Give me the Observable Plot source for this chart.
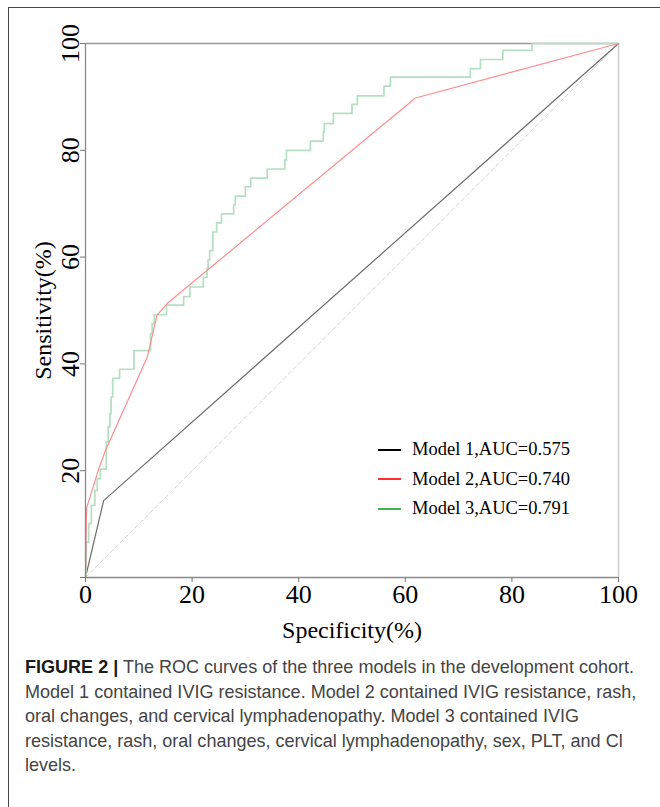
<!DOCTYPE html>
<html>
<head>
<meta charset="utf-8">
<script src="https://cdn.jsdelivr.net/npm/d3@7"></script>
<script src="https://cdn.jsdelivr.net/npm/@observablehq/plot@0.6"></script>
<style>
  html, body { margin: 0; padding: 0; background: #fff; }
  body { width: 660px; height: 807px; overflow: hidden; position: relative; }
  #frame { position: absolute; left: 8px; top: 7px; width: 660px; height: 810px;
           border-left: 1px solid #444; border-top: 1px solid #444; }
  #chart { position: absolute; left: 0; top: 0; }
  #legend { position: absolute; left: 378px; top: 435px; font-family: "Liberation Serif", serif;
            font-size: 18.5px; color: #000; }
  .row { height: 29.5px; display: flex; align-items: center; white-space: nowrap; }
  .sw { width: 23px; height: 0; border-top: 2px solid; margin-right: 11px; }
  #caption { position: absolute; left: 25px; top: 655px; font-family: "Liberation Sans", Arial, sans-serif;
             font-size: 16px; line-height: 24.5px; color: #444; white-space: nowrap; }
  #caption b { color: #1a1a1a; }
</style>
</head>
<body>
<div id="frame"></div>
<div id="chart"></div>
<div id="legend"></div>
<div id="caption"></div>
<script>
// ---- data ----
const xTicks = [0, 20, 40, 60, 80, 100];
const yTicks = [0, 20, 40, 60, 80, 100];

const diagX = [0, 100];
const diagY = [0, 100];

// Model 1
const spec1 = [0, 3.4, 100];
const sens1 = [0, 14.4, 100];

// Model 2
const spec2 = [0, 0.2, 2.5, 3.75, 11.6, 13.4, 15.3, 61.9, 100];
const sens2 = [0, 13.0, 20.4, 23.8, 41.3, 49.1, 51.3, 89.8, 100];

// Model 3 (step curve: jump points)
const spec3 = [0, 0.1, 0.6, 1.1, 1.75, 2.2, 2.8, 3.9, 4.25, 4.6, 4.8, 5.1, 6.4, 9.1, 12.2, 12.5, 12.9,
  15.2, 18.4, 19.6, 22.1, 22.8, 23.0, 23.3, 23.9, 24.6, 25.5, 27.8, 28.1, 30.0, 31.0, 34.1, 37.4, 37.7,
  42.2, 44.6, 44.8, 46.5, 50.0, 51.0, 56.0, 57.2, 72.2, 74.1, 78.3, 83.8, 100];
const sens3 = [0, 6.6, 10.1, 13.5, 16.3, 18.5, 20.3, 25.4, 28.2, 30.7, 33.8, 37.3, 39.0, 42.5, 45.7, 47.5, 49.2,
  51.0, 52.6, 54.4, 56.2, 57.9, 59.5, 61.2, 64.7, 66.4, 68.1, 69.8, 71.4, 73.2, 74.8, 76.5, 78.2, 80.0,
  81.7, 83.4, 85.0, 86.9, 88.6, 90.2, 92.0, 93.7, 95.3, 97.0, 98.7, 100, 100];

const modelNames = ["Model 1", "Model 2", "Model 3"];
const aucValues = ["0.575", "0.740", "0.791"];
const legendColors = ["#000000", "#ff3030", "#3cb64a"];
const curveColors = ["#6e6e6e", "#ff8c8c", "#b3dfc2"];

const xLabel = "Specificity(%)";
const yLabel = "Sensitivity(%)";

const captionLines = [
  ["FIGURE 2 |", " The ROC curves of the three models in the development cohort."],
  ["", "Model 1 contained IVIG resistance. Model 2 contained IVIG resistance, rash,"],
  ["", "oral changes, and cervical lymphadenopathy. Model 3 contained IVIG"],
  ["", "resistance, rash, oral changes, cervical lymphadenopathy, sex, PLT, and Cl"],
  ["", "levels."]
];

// ---- build tables ----
const toRows = (xs, ys) => xs.map((x, i) => ({x, y: ys[i]}));
const diag = toRows(diagX, diagY);
const m1 = toRows(spec1, sens1);
const m2 = toRows(spec2, sens2);
const m3 = toRows(spec3, sens3);

const chart = Plot.plot({
  width: 660,
  height: 650,
  marginLeft: 85,
  marginRight: 42,
  marginTop: 43,
  marginBottom: 73,
  x: {domain: [0, 100]},
  y: {domain: [0, 100]},
  style: {fontFamily: "Liberation Serif, serif", fontSize: "26px", color: "#000", background: "transparent", overflow: "visible"},
  marks: [
    Plot.ruleY([100], {stroke: "#9a9a9a", strokeWidth: 1.3}),
    Plot.ruleX([100], {stroke: "#cfcfcf", strokeWidth: 1.6}),
    Plot.line(diag, {x: "x", y: "y", stroke: "#d4d4d4", strokeWidth: 1, strokeDasharray: "4,3"}),
    Plot.line(m1, {x: "x", y: "y", stroke: curveColors[0], strokeWidth: 1.2}),
    Plot.line(m3, {x: "x", y: "y", stroke: curveColors[2], strokeWidth: 1.7, curve: "step-after"}),
    Plot.line(m2, {x: "x", y: "y", stroke: curveColors[1], strokeWidth: 1.2}),
    Plot.ruleX([0], {stroke: "#8a8a8a", strokeWidth: 1.3}),
    Plot.ruleY([0], {stroke: "#8a8a8a", strokeWidth: 1.3}),
    Plot.axisX({ticks: xTicks, tickSize: 5, tickPadding: 2, fontSize: 26, stroke: "#777", label: null}),
    Plot.axisX({ticks: [], fontSize: 24, label: xLabel, labelAnchor: "center", labelOffset: 60, labelArrow: "none"}),
    Plot.axisY({ticks: yTicks, tickSize: 5, tickPadding: 2, tickRotate: -90, fontSize: 26, stroke: "#777",
      tickFormat: d => d === 0 ? "" : String(d), label: null}),
    Plot.axisY({ticks: [], fontSize: 24, label: yLabel, labelAnchor: "center", labelOffset: 52, labelArrow: "none"})
  ]
});
document.getElementById("chart").appendChild(chart);

// legend
const legend = document.getElementById("legend");
modelNames.forEach((name, i) => {
  const row = document.createElement("div");
  row.className = "row";
  const sw = document.createElement("span");
  sw.className = "sw";
  sw.style.borderTopColor = legendColors[i];
  const t = document.createElement("span");
  t.textContent = `${name},AUC=${aucValues[i]}`;
  row.appendChild(sw);
  row.appendChild(t);
  legend.appendChild(row);
});

// caption
const cap = document.getElementById("caption");
captionLines.forEach(([bold, rest]) => {
  const line = document.createElement("div");
  if (bold) { const b = document.createElement("b"); b.textContent = bold; line.appendChild(b); }
  line.appendChild(document.createTextNode(rest));
  cap.appendChild(line);
});
// fit caption width so the second line spans ~612px
const probe = cap.children[1];
const range = document.createRange();
range.selectNodeContents(probe);
const w = range.getBoundingClientRect().width;
if (w > 0) {
  const fs = 16 * 612 / w;
  cap.style.fontSize = fs.toFixed(2) + "px";
}
</script>
</body>
</html>
